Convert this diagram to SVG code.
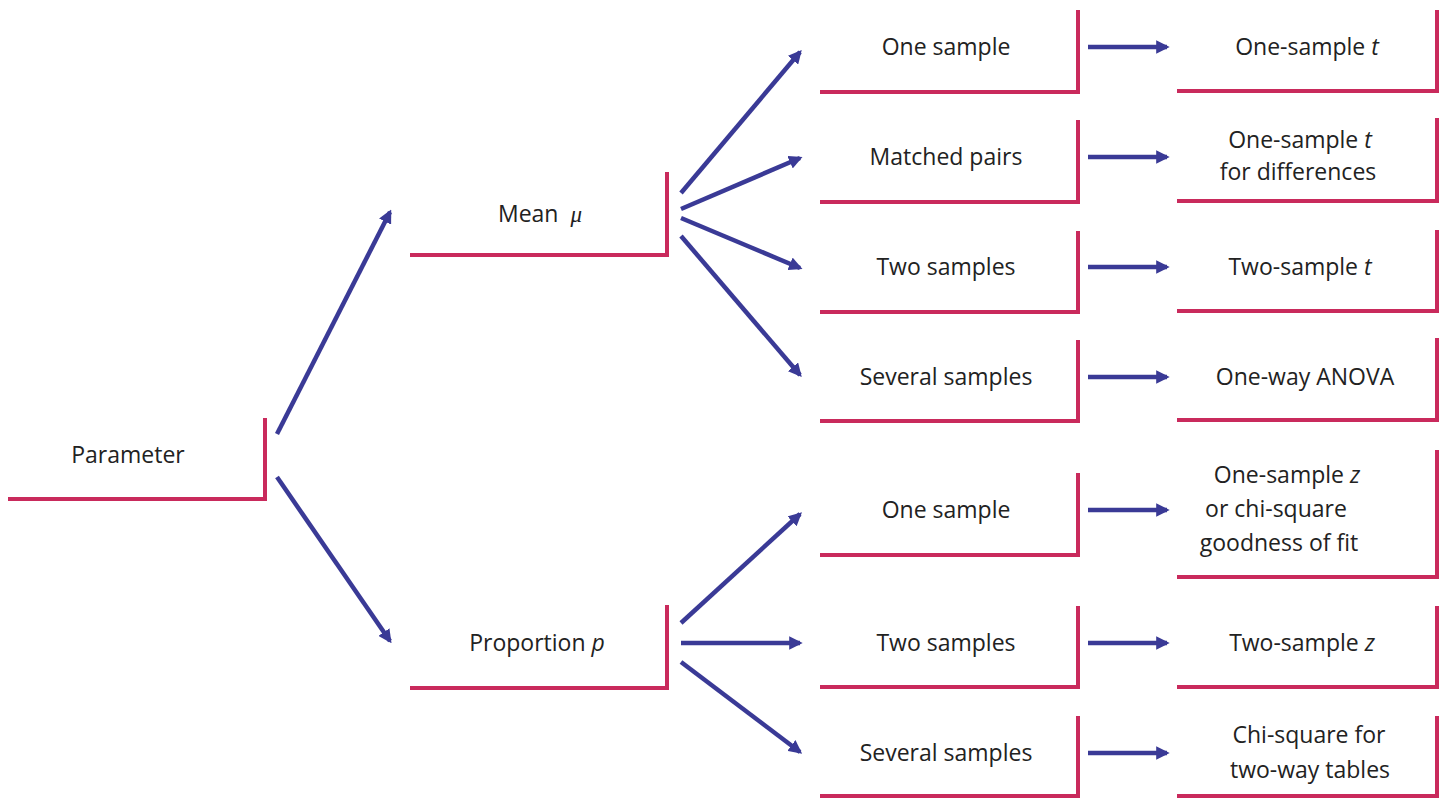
<svg xmlns="http://www.w3.org/2000/svg" width="1442" height="799" viewBox="0 0 1442 799">
<defs>
<style>
.box{fill:none;stroke:#c92a5c;stroke-width:4}
.arr{stroke:#3a3a96;stroke-width:4.5;fill:none;marker-end:url(#ah)}
text{font-family:"Open Sans","Liberation Sans",sans-serif;font-size:23px;fill:#222;text-anchor:middle}
.i{font-style:italic}
</style>
<marker id="ah" viewBox="0 0 10 10" refX="8" refY="5" markerWidth="3" markerHeight="3" orient="auto" markerUnits="strokeWidth">
<path d="M0,0 L10,5 L0,10 Z" fill="#3a3a96"/>
</marker>
</defs>
<rect width="1442" height="799" fill="#fff"/>
<g id="connectors">
<line class="arr" x1="277" y1="434" x2="390" y2="212"/>
<line class="arr" x1="277" y1="477" x2="390" y2="641"/>
<line class="arr" x1="681" y1="193" x2="800" y2="52"/>
<line class="arr" x1="681" y1="209" x2="800" y2="158"/>
<line class="arr" x1="681" y1="218" x2="800" y2="268"/>
<line class="arr" x1="681" y1="236" x2="800" y2="375"/>
<line class="arr" x1="681" y1="623" x2="800" y2="514"/>
<line class="arr" x1="681" y1="643" x2="800" y2="643"/>
<line class="arr" x1="681" y1="662" x2="800" y2="752"/>
<line class="arr" x1="1088" y1="47" x2="1167" y2="47"/>
<line class="arr" x1="1088" y1="157" x2="1167" y2="157"/>
<line class="arr" x1="1088" y1="267" x2="1167" y2="267"/>
<line class="arr" x1="1088" y1="377" x2="1167" y2="377"/>
<line class="arr" x1="1088" y1="510" x2="1167" y2="510"/>
<line class="arr" x1="1088" y1="643" x2="1167" y2="643"/>
<line class="arr" x1="1088" y1="753" x2="1167" y2="753"/>
</g>
<g id="parameter"><path class="box" d="M8,499 H265 V418"/><text x="128" y="463">Parameter</text></g>
<g id="mean"><path class="box" d="M410,255 H667 V172"/><text x="540" y="222">Mean <tspan class="i" dx="6" font-family="'Liberation Serif',serif">μ</tspan></text></g>
<g id="proportion"><path class="box" d="M410,688 H667 V605"/><text x="537" y="651">Proportion <tspan class="i">p</tspan></text></g>
<g id="m1"><path class="box" d="M820,92 H1078 V10"/><text x="946" y="55">One sample</text></g>
<g id="m2"><path class="box" d="M820,202 H1078 V120"/><text x="946" y="165">Matched pairs</text></g>
<g id="m3"><path class="box" d="M820,312 H1078 V231"/><text x="946" y="275">Two samples</text></g>
<g id="m4"><path class="box" d="M820,421 H1078 V340"/><text x="946" y="385">Several samples</text></g>
<g id="p1"><path class="box" d="M820,555 H1078 V473"/><text x="946" y="518">One sample</text></g>
<g id="p2"><path class="box" d="M820,687 H1078 V606"/><text x="946" y="651">Two samples</text></g>
<g id="p3"><path class="box" d="M820,796 H1078 V716"/><text x="946" y="761">Several samples</text></g>
<g id="r1"><path class="box" d="M1177,91 H1437 V10"/><text x="1307" y="55">One-sample <tspan class="i">t</tspan></text></g>
<g id="r2"><path class="box" d="M1177,201 H1437 V118"/><text x="1300" y="148">One-sample <tspan class="i">t</tspan></text><text x="1298" y="180">for differences</text></g>
<g id="r3"><path class="box" d="M1177,311 H1437 V230"/><text x="1300" y="275">Two-sample <tspan class="i">t</tspan></text></g>
<g id="r4"><path class="box" d="M1177,420 H1437 V338"/><text x="1305" y="385">One-way ANOVA</text></g>
<g id="r5"><path class="box" d="M1177,577 H1437 V450"/><text x="1287" y="483">One-sample <tspan class="i">z</tspan></text><text x="1276" y="517">or chi-square</text><text x="1279" y="551">goodness of fit</text></g>
<g id="r6"><path class="box" d="M1177,687 H1437 V606"/><text x="1302" y="651">Two-sample <tspan class="i">z</tspan></text></g>
<g id="r7"><path class="box" d="M1177,796 H1437 V716"/><text x="1309" y="743">Chi-square for</text><text x="1310" y="778">two-way tables</text></g>
</svg>
